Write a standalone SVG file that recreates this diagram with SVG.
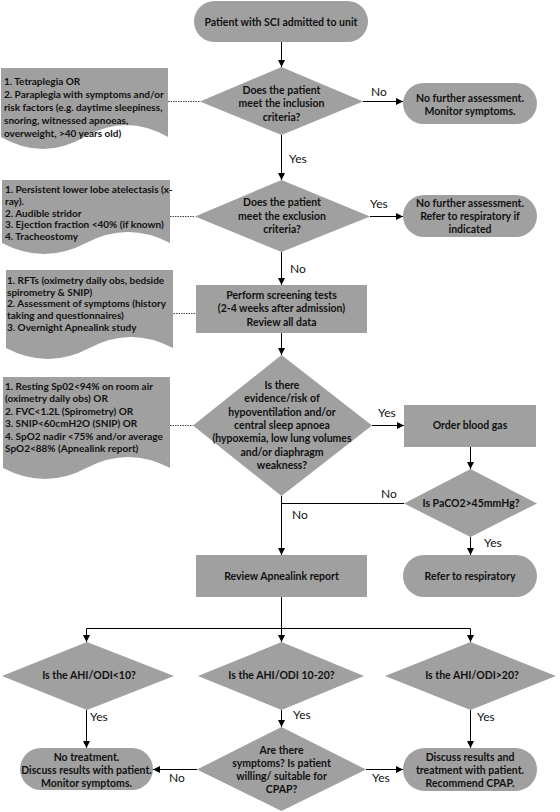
<svg xmlns="http://www.w3.org/2000/svg" width="560" height="812" viewBox="0 0 560 812">
<defs>
<marker id="ah" viewBox="0 0 10 10" refX="10" refY="5" markerWidth="7" markerHeight="7" markerUnits="userSpaceOnUse" orient="auto"><path d="M0,0 L10,5 L0,10 z" fill="#000"/></marker>
</defs>
<style>
.s{fill:#a0a0a0;stroke:none}
.t{font-family:Lato,"Liberation Sans",sans-serif;font-weight:bold;font-size:10.5px;fill:#111;text-anchor:middle}
.n{font-family:Lato,"Liberation Sans",sans-serif;font-weight:bold;font-size:10px;fill:#111}
.l{font-family:Lato,"Liberation Sans",sans-serif;font-size:12px;fill:#111}
.c{fill:none;stroke:#000;stroke-width:1}
.a{marker-end:url(#ah)}
.d{fill:none;stroke:#444;stroke-width:1;stroke-dasharray:1.5 1}
</style>
<rect width="560" height="812" fill="#fff"/>

<g id="connectors">
<path class="c a" d="M281.5,42 V67"/>
<path class="c a" d="M363,101.5 H403"/>
<path class="c a" d="M281.5,135 V180"/>
<path class="c a" d="M370,216.5 H403"/>
<path class="c a" d="M281.5,252 V285"/>
<path class="c a" d="M281.5,333 V355"/>
<path class="c a" d="M372,425.5 H404"/>
<path class="c a" d="M470.5,447 V469"/>
<path class="c" d="M404,503.5 H281.5"/>
<path class="c a" d="M281.5,496 V555"/>
<path class="c a" d="M470.5,537 V555"/>
<path class="c a" d="M281.5,597 V642"/>
<path class="c a" d="M281.5,628.5 H86.5 V642"/>
<path class="c a" d="M281.5,628.5 H470.5 V642"/>
<path class="c a" d="M86.5,710 V748"/>
<path class="c a" d="M281.5,710 V727"/>
<path class="c a" d="M470.5,710 V748"/>
<path class="c a" d="M197,769.5 H153"/>
<path class="c a" d="M366,769.5 H403"/>
<path class="d" d="M168,101.5 H200"/>
<path class="d" d="M170,216.5 H195"/>
<path class="d" d="M171,313.5 H196"/>
<path class="d" d="M170,425.5 H193"/>
<text class="l" x="371" y="96">No</text>
<text class="l" x="289" y="163">Yes</text>
<text class="l" x="370" y="208">Yes</text>
<text class="l" x="290" y="273">No</text>
<text class="l" x="378" y="417">Yes</text>
<text class="l" x="381" y="498">No</text>
<text class="l" x="292" y="519">No</text>
<text class="l" x="484" y="547">Yes</text>
<text class="l" x="90" y="721">Yes</text>
<text class="l" x="293" y="719">Yes</text>
<text class="l" x="477" y="721">Yes</text>
<text class="l" x="169" y="782">No</text>
<text class="l" x="372" y="782">Yes</text>
</g>

<g id="start">
<rect class="s" x="194" y="1" width="174" height="41" rx="20.5"/>
<text class="t" x="281" y="25.5">Patient with SCI admitted to unit</text>
</g>

<g id="note1">
<path class="s" d="M1,68 H168 V137 Q126,113 84.5,137 T1,137 Z"/>
<text class="n" x="4"><tspan x="4" y="85">1. Tetraplegia OR</tspan><tspan x="4" y="98">2. Paraplegia with symptoms and/or</tspan><tspan x="4" y="111">risk factors (e.g. daytime sleepiness,</tspan><tspan x="4" y="124">snoring, witnessed apnoeas,</tspan><tspan x="4" y="137">overweight, &gt;40 years old)</tspan></text>
</g>

<g id="inclusion">
<polygon class="s" points="281.5,67 363,101.5 281.5,135 200,101.5"/>
<text class="t"><tspan x="281.5" y="94">Does the patient</tspan><tspan x="281.5" y="107">meet the inclusion</tspan><tspan x="281.5" y="121">criteria?</tspan></text>
</g>

<g id="no-further-1">
<rect class="s" x="403" y="83" width="134" height="41" rx="20.5"/>
<text class="t"><tspan x="470" y="102">No further assessment.</tspan><tspan x="470" y="115">Monitor symptoms.</tspan></text>
</g>

<g id="note2">
<path class="s" d="M2,180 H170 V243 Q128,221 86,243 T2,243 Z"/>
<text class="n"><tspan x="5" y="193">1. Persistent lower lobe atelectasis (x-</tspan><tspan x="5" y="205">ray).</tspan><tspan x="5" y="217">2. Audible stridor</tspan><tspan x="5" y="228">3. Ejection fraction &lt;40% (if known)</tspan><tspan x="5" y="240">4. Tracheostomy</tspan></text>
</g>

<g id="exclusion">
<polygon class="s" points="281.5,180 370,216.5 281.5,252 195,216.5"/>
<text class="t"><tspan x="282" y="206">Does the patient</tspan><tspan x="282" y="220">meet the exclusion</tspan><tspan x="282" y="233">criteria?</tspan></text>
</g>

<g id="no-further-2">
<rect class="s" x="403" y="195" width="134" height="42" rx="21"/>
<text class="t"><tspan x="470" y="207">No further assessment.</tspan><tspan x="470" y="220">Refer to respiratory if</tspan><tspan x="470" y="233">indicated</tspan></text>
</g>

<g id="note3">
<path class="s" d="M6,270 H173 V348 Q131,326 89.5,348 T6,348 Z"/>
<text class="n"><tspan x="7" y="284">1. RFTs (oximetry daily obs, bedside</tspan><tspan x="7" y="295.5">spirometry &amp; SNIP)</tspan><tspan x="7" y="307">2. Assessment of symptoms (history</tspan><tspan x="7" y="319">taking and questionnaires)</tspan><tspan x="7" y="330.5">3. Overnight Apnealink study</tspan></text>
</g>

<g id="screening">
<rect class="s" x="196" y="285" width="171" height="48"/>
<text class="t"><tspan x="281.5" y="299">Perform screening tests</tspan><tspan x="281.5" y="312">(2-4 weeks after admission)</tspan><tspan x="281.5" y="326">Review all data</tspan></text>
</g>

<g id="note4">
<path class="s" d="M3,377 H170 V468 Q128,446 86.5,468 T3,468 Z"/>
<text class="n"><tspan x="5" y="390">1. Resting Sp02&lt;94% on room air</tspan><tspan x="5" y="402">(oximetry daily obs) OR</tspan><tspan x="5" y="415">2. FVC&lt;1.2L (Spirometry) OR</tspan><tspan x="5" y="427">3. SNIP&lt;60cmH2O (SNIP) OR</tspan><tspan x="5" y="439.5">4. SpO2 nadir &lt;75% and/or average</tspan><tspan x="5" y="452">SpO2&lt;88% (Apnealink report)</tspan></text>
</g>

<g id="evidence">
<polygon class="s" points="281.5,355 372,425.5 281.5,496 193,425.5"/>
<text class="t"><tspan x="282" y="389">Is there</tspan><tspan x="282" y="402">evidence/risk of</tspan><tspan x="282" y="416">hypoventilation and/or</tspan><tspan x="282" y="429">central sleep apnoea</tspan><tspan x="282" y="442">(hypoxemia, low lung volumes</tspan><tspan x="282" y="456">and/or diaphragm</tspan><tspan x="282" y="469">weakness?</tspan></text>
</g>

<g id="blood-gas">
<rect class="s" x="404" y="405" width="132" height="42"/>
<text class="t" x="470" y="429">Order blood gas</text>
</g>

<g id="paco2">
<polygon class="s" points="470.5,469 537,503.5 470.5,537 404,503.5"/>
<text class="t" x="471" y="507">Is PaCO2&gt;45mmHg?</text>
</g>

<g id="refer">
<rect class="s" x="403" y="555" width="134" height="42" rx="21"/>
<text class="t" x="470" y="580">Refer to respiratory</text>
</g>

<g id="review">
<rect class="s" x="196" y="555" width="171" height="42"/>
<text class="t" x="281.5" y="580">Review Apnealink report</text>
</g>

<g id="ahi-lt10">
<polygon class="s" points="87,642 174,676 87,710 2,676"/>
<text class="t" x="89" y="679">Is the AHI/ODI&lt;10?</text>
</g>

<g id="ahi-10-20">
<polygon class="s" points="281.5,642 364,676 281.5,710 198,676"/>
<text class="t" x="281.5" y="679">Is the AHI/ODI 10-20?</text>
</g>

<g id="ahi-gt20">
<polygon class="s" points="470.5,642 556,676 470.5,710 385,676"/>
<text class="t" x="472" y="679">Is the AHI/ODI&gt;20?</text>
</g>

<g id="no-treatment">
<rect class="s" x="20" y="748" width="133" height="42" rx="21"/>
<text class="t"><tspan x="86.5" y="760.5">No treatment.</tspan><tspan x="86.5" y="773.5">Discuss results with patient.</tspan><tspan x="86.5" y="786.5">Monitor symptoms.</tspan></text>
</g>

<g id="symptoms">
<polygon class="s" points="281.5,727 366,769.5 281.5,811 197,769.5"/>
<text class="t"><tspan x="281.5" y="754">Are there</tspan><tspan x="281.5" y="767">symptoms? Is patient</tspan><tspan x="281.5" y="780">willing/ suitable for</tspan><tspan x="281.5" y="793">CPAP?</tspan></text>
</g>

<g id="cpap">
<rect class="s" x="403" y="748" width="134" height="43" rx="21.5"/>
<text class="t"><tspan x="470" y="760.5">Discuss results and</tspan><tspan x="470" y="773.5">treatment with patient.</tspan><tspan x="470" y="786.5">Recommend CPAP.</tspan></text>
</g>
</svg>
